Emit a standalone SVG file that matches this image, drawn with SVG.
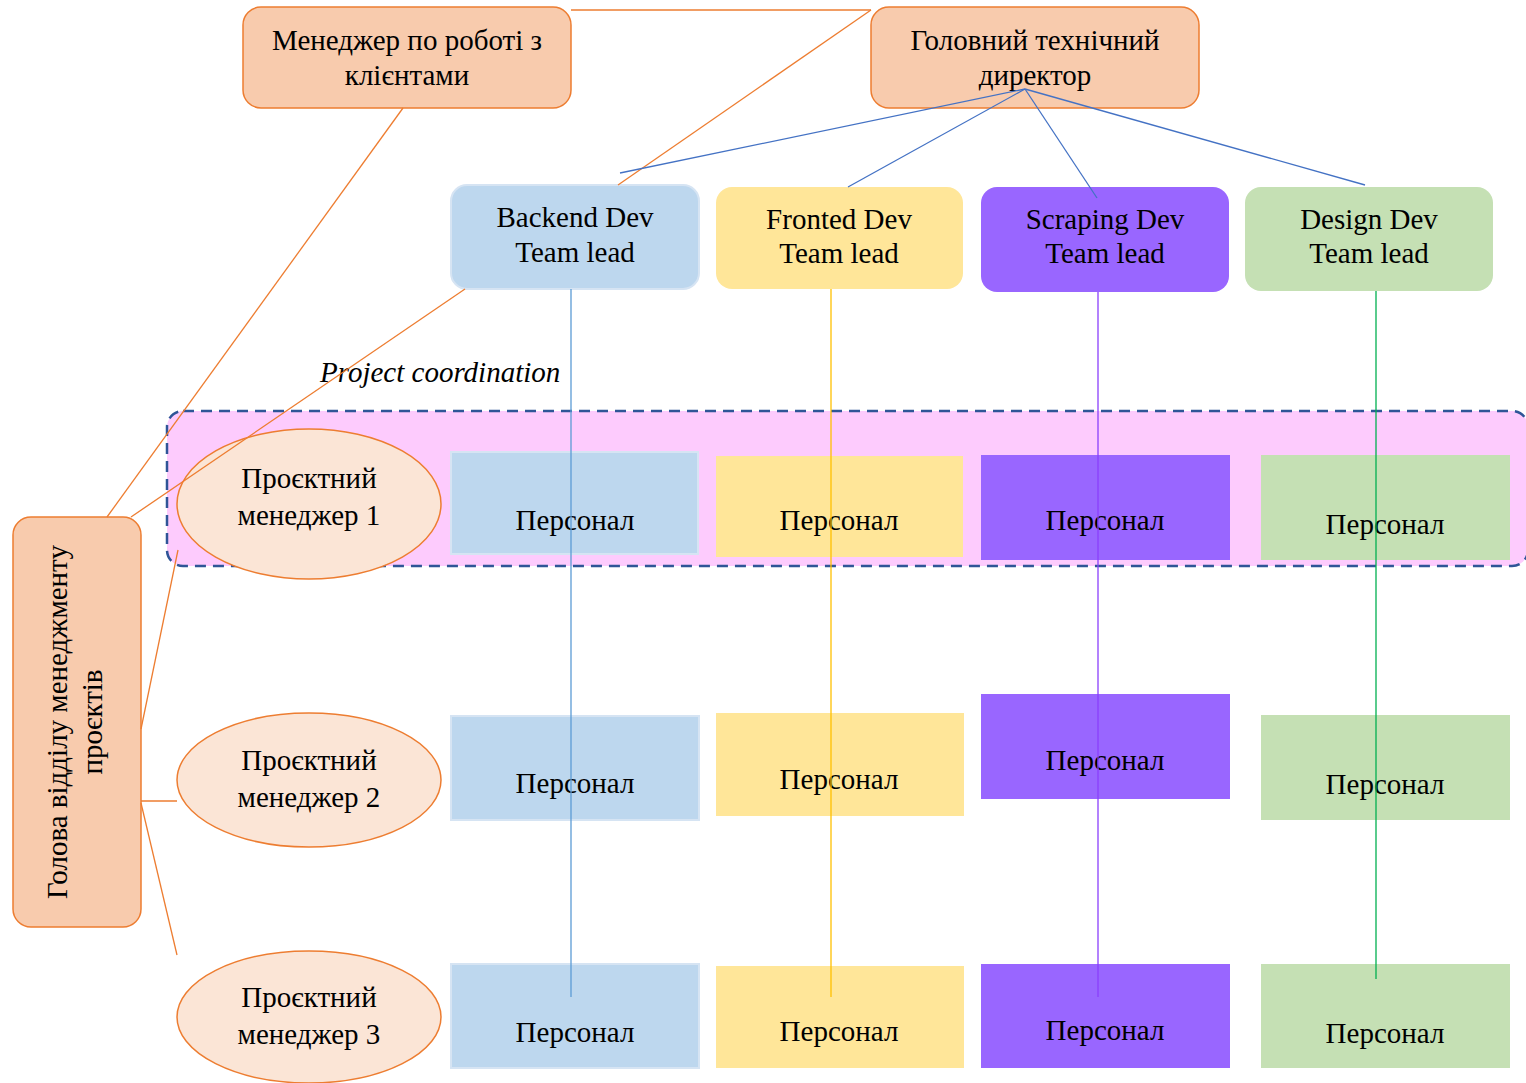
<svg xmlns="http://www.w3.org/2000/svg" width="1526" height="1083" viewBox="0 0 1526 1083">
<style>
text{font-family:"Liberation Serif","Times New Roman",serif;font-size:29px;fill:#000;text-anchor:middle}
.peach{fill:#F8CBAD;stroke:#ED7D31;stroke-width:1.5}
.ell{fill:#FBE5D6;stroke:#ED7D31;stroke-width:1.5}
.blue{fill:#BDD7EE}
.bluebox{fill:#BDD7EE;stroke:#D6E4F3;stroke-width:2}
.yel{fill:#FFE699}
.pur{fill:#9966FF}
.grn{fill:#C5E0B4}
.oc{stroke:#ED7D31;stroke-width:1.3;fill:none}
.bc{stroke:#4472C4;stroke-width:1.3;fill:none}
</style>
<rect id="coordination-band" x="167" y="411" width="1361" height="155" rx="16" fill="#FDCBFD" stroke="#2F5597" stroke-width="2.5" stroke-dasharray="11 7"/>
<text x="320" y="382" style="font-style:italic;text-anchor:start">Project coordination</text>
<g id="client-manager"><rect class="peach" x="243" y="7" width="328" height="101" rx="18"/><text x="407" y="50">Менеджер по роботі з</text><text x="407" y="85">клієнтами</text></g>
<g id="cto"><rect class="peach" x="871" y="7" width="328" height="101" rx="18"/><text x="1035" y="50">Головний технічний</text><text x="1035" y="85">директор</text></g>
<g id="backend-lead"><rect class="bluebox" x="451" y="185" width="248" height="104" rx="16"/><text x="575" y="227">Backend Dev</text><text x="575" y="262">Team lead</text></g>
<g id="frontend-lead"><rect class="yel" x="716" y="187" width="247" height="102" rx="16"/><text x="839" y="229">Fronted Dev</text><text x="839" y="263">Team lead</text></g>
<g id="scraping-lead"><rect class="pur" x="981" y="187" width="248" height="105" rx="16"/><text x="1105" y="229">Scraping Dev</text><text x="1105" y="263">Team lead</text></g>
<g id="design-lead"><rect class="grn" x="1245" y="187" width="248" height="104" rx="16"/><text x="1369" y="229">Design Dev</text><text x="1369" y="263">Team lead</text></g>
<g id="head-pm"><rect class="peach" x="13" y="517" width="128" height="410" rx="18"/><text transform="translate(67,722) rotate(-90)">Голова відділу менеджменту</text><text transform="translate(102,722) rotate(-90)">проєктів</text></g>
<g id="pm1"><ellipse class="ell" cx="309" cy="504" rx="132" ry="75"/><text x="309" y="488">Проєктний</text><text x="309" y="525">менеджер 1</text></g>
<g id="pm2"><ellipse class="ell" cx="309" cy="780" rx="132" ry="67"/><text x="309" y="770">Проєктний</text><text x="309" y="807">менеджер 2</text></g>
<g id="pm3"><ellipse class="ell" cx="309" cy="1017" rx="132" ry="66"/><text x="309" y="1007">Проєктний</text><text x="309" y="1044">менеджер 3</text></g>
<g id="staff-b1"><rect class="bluebox" x="451" y="452" width="247" height="102"/><text x="575" y="530">Персонал</text></g>
<g id="staff-f1"><rect class="yel" x="716" y="456" width="247" height="101"/><text x="839" y="530">Персонал</text></g>
<g id="staff-s1"><rect class="pur" x="981" y="455" width="249" height="105"/><text x="1105" y="530">Персонал</text></g>
<g id="staff-d1"><rect class="grn" x="1261" y="455" width="249" height="105"/><text x="1385" y="534">Персонал</text></g>
<g id="staff-b2"><rect class="bluebox" x="451" y="716" width="248" height="104"/><text x="575" y="793">Персонал</text></g>
<g id="staff-f2"><rect class="yel" x="716" y="713" width="248" height="103"/><text x="839" y="789">Персонал</text></g>
<g id="staff-s2"><rect class="pur" x="981" y="694" width="249" height="105"/><text x="1105" y="770">Персонал</text></g>
<g id="staff-d2"><rect class="grn" x="1261" y="715" width="249" height="105"/><text x="1385" y="794">Персонал</text></g>
<g id="staff-b3"><rect class="bluebox" x="451" y="964" width="248" height="104"/><text x="575" y="1042">Персонал</text></g>
<g id="staff-f3"><rect class="yel" x="716" y="966" width="248" height="102"/><text x="839" y="1041">Персонал</text></g>
<g id="staff-s3"><rect class="pur" x="981" y="964" width="249" height="104"/><text x="1105" y="1040">Персонал</text></g>
<g id="staff-d3"><rect class="grn" x="1261" y="964" width="249" height="104"/><text x="1385" y="1043">Персонал</text></g>
<g id="connectors">
<line class="oc" x1="571" y1="10" x2="871" y2="10"/>
<line class="oc" x1="871" y1="10" x2="618" y2="185"/>
<line class="oc" x1="403" y1="108" x2="107" y2="517"/>
<line class="oc" x1="465" y1="289" x2="131" y2="517"/>
<line class="oc" x1="141" y1="729" x2="178" y2="550"/>
<line class="oc" x1="141" y1="801" x2="177" y2="801"/>
<line class="oc" x1="141" y1="803" x2="177" y2="955"/>
<line class="bc" x1="1025" y1="89" x2="620" y2="173"/>
<line class="bc" x1="1025" y1="89" x2="848" y2="187"/>
<line class="bc" x1="1025" y1="89" x2="1097" y2="198"/>
<line class="bc" x1="1025" y1="89" x2="1365" y2="185"/>
<line x1="571" y1="289" x2="571" y2="997" stroke="#5B9BD5" stroke-width="1.3"/>
<line x1="831" y1="289" x2="831" y2="997" stroke="#FFC000" stroke-width="1.3"/>
<line x1="1098" y1="292" x2="1098" y2="997" stroke="#8A3FFC" stroke-width="1.3"/>
<line x1="1376" y1="291" x2="1376" y2="979" stroke="#00B050" stroke-width="1.3"/>
</g>
</svg>
